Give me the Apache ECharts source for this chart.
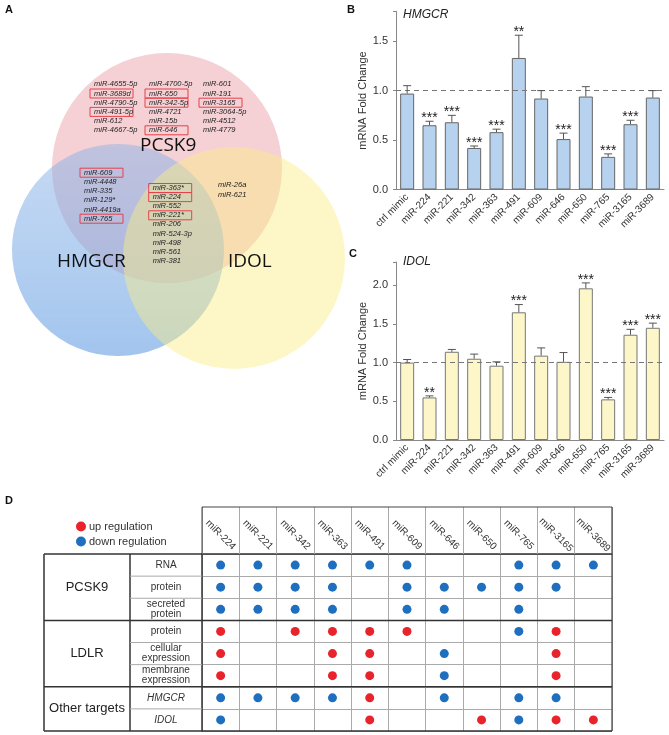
<!DOCTYPE html>
<html><head><meta charset="utf-8">
<script src="https://cdn.jsdelivr.net/npm/echarts@6/dist/echarts.min.js"></script>
<style>html,body{margin:0;padding:0;background:#fff}#c{width:669px;height:735px}</style>
</head><body><div id="c"></div>
<script>
// ---------- DATA ----------
const mirs = ['ctrl mimic','miR-224','miR-221','miR-342','miR-363','miR-491','miR-609','miR-646','miR-650','miR-765','miR-3165','miR-3689'];
const hmgcrMean = [0.97,0.65,0.68,0.42,0.58,1.33,0.92,0.51,0.94,0.33,0.66,0.93];
const hmgcrErrTop = [1.05,0.69,0.75,0.44,0.61,1.56,1.00,0.57,1.04,0.36,0.70,1.00];
const hmgcrSig = ['','***','***','***','***','**','','***','','***','***',''];
const idolMean = [1.00,0.55,1.14,1.05,0.96,1.65,1.09,1.01,1.96,0.525,1.36,1.45];
const idolErrTop = [1.04,0.57,1.17,1.11,1.01,1.75,1.19,1.13,2.03,0.55,1.43,1.51];
const idolSig = ['','**','','','','***','','','***','***','***','***'];

const tableCols = ['miR-224','miR-221','miR-342','miR-363','miR-491','miR-609','miR-646','miR-650','miR-765','miR-3165','miR-3689'];
const tableRowLabels = ['RNA','protein','secreted\nprotein','protein','cellular\nexpression','membrane\nexpression','HMGCR','IDOL'];
const tableGroups = ['PCSK9','LDLR','Other targets'];
const groupSpans = [3,3,2];
// U = up regulation, D = down regulation, . = none
const regulation = [
  'DDDDDD..DDD',
  'DDDD.DDDDD.',
  'DDDD.DD.D..',
  'U.UUUU..DU.',
  'U..UU.D..U.',
  'U..UU.D..U.',
  'DDDDU.D.DD.',
  'D...U..UDUU'
];

const vennPcsk9Only = [
  ['miR-4655-5p','miR-3689d','miR-4790-5p','miR-491-5p','miR-612','miR-4667-5p'],
  ['miR-4700-5p','miR-650','miR-342-5p','miR-4721','miR-15b','miR-646'],
  ['miR-601','miR-191','miR-3165','miR-3064-5p','miR-4512','miR-4779']
];
const vennPcsk9Hmgcr = ['miR-609','miR-4448','miR-335','miR-129*','miR-4419a','miR-765'];
const vennAll = ['miR-363*','miR-224','miR-552','miR-221*','miR-206','miR-524-3p','miR-498','miR-561','miR-381'];
const vennPcsk9Idol = ['miR-26a','miR-621'];
const vennBoxed = ['miR-3689d','miR-491-5p','miR-650','miR-342-5p','miR-646','miR-3165','miR-609','miR-765','miR-363*','miR-224','miR-221*'];
const vennSets = ['PCSK9','HMGCR','IDOL'];

// ---------- LAYOUT ----------
const GB = {left:396, top:11.5, width:268, height:178};
const GC = {left:396, top:262, width:268, height:178};
const GD = {left:202, top:554, width:410, height:177};
const rowH = GD.height / tableRowLabels.length;

const chart = echarts.init(document.getElementById('c'));
const FONT = 'Arial';

function errSeries(xi, yi, mean, errTop, sig) {
  return {
    type:'custom', xAxisIndex:xi, yAxisIndex:yi, z:5, silent:true,
    data: mean.map((m,i)=>[i,m,errTop[i]]),
    renderItem(params, api){
      const i = api.value(0);
      const p0 = api.coord([i, api.value(1)]);
      const p1 = api.coord([i, api.value(2)]);
      const cap = 4;
      const ch = [
        {type:'line', shape:{x1:p0[0],y1:p0[1],x2:p1[0],y2:p1[1]}, style:{stroke:'#555',lineWidth:1}},
        {type:'line', shape:{x1:p1[0]-cap,y1:p1[1],x2:p1[0]+cap,y2:p1[1]}, style:{stroke:'#555',lineWidth:1}}
      ];
      const s = sig[params.dataIndex];
      if (s) ch.push({type:'text', style:{text:s, x:p1[0], y:p1[1]-3, align:'center', verticalAlign:'middle', font:'14px '+FONT, fill:'#222'}});
      return {type:'group', children:ch};
    }
  };
}

function barX(gi){
  return {gridIndex:gi, type:'category', data:mirs,
    axisLine:{lineStyle:{color:'#888'}},
    axisTick:{alignWithLabel:true, length:3, lineStyle:{color:'#888'}},
    axisLabel:{rotate:45, fontSize:10, color:'#333', margin:6, interval:0, fontFamily:FONT}};
}
function barY(gi, max){
  return {gridIndex:gi, type:'value', min:0, max:max, interval:0.5,
    splitLine:{show:false},
    axisLine:{show:true, lineStyle:{color:'#888'}},
    axisTick:{show:true, length:3, lineStyle:{color:'#888'}},
    axisLabel:{fontSize:11, color:'#333', fontFamily:FONT, formatter:v => (Math.abs(v*2-Math.round(v*2))<1e-6 ? v.toFixed(1) : '')},
    name:'mRNA Fold Change', nameLocation:'middle', nameGap:24,
    nameTextStyle:{fontSize:11, color:'#333', fontFamily:FONT}};
}
const refLine = {silent:true, symbol:'none', label:{show:false},
  lineStyle:{type:[5,4], color:'#777', width:1}, data:[{yAxis:1}]};

// ---------- GRAPHICS (Venn + table frame) ----------
const g = [];
const letter = (t,x,y)=>g.push({type:'text', x, y, style:{text:t, font:'bold 11px '+FONT, fill:'#111', verticalAlign:'middle'}});
letter('A',5,10); letter('B',347,10); letter('C',349,254); letter('D',5,501);

// Venn circles
g.push({type:'circle', shape:{cx:167, cy:168, r:115}, style:{fill:'rgba(232,150,160,0.45)'}});
g.push({type:'circle', shape:{cx:118, cy:250, r:106}, style:{fill:new echarts.graphic.LinearGradient(0,0,0,1,[
  {offset:0, color:'rgba(140,180,232,0.5)'},{offset:1, color:'rgba(100,158,226,0.6)'}])}});
g.push({type:'circle', shape:{cx:234, cy:258, r:111}, style:{fill:'rgba(250,238,130,0.45)'}});

function vennCol(list, x, y0, dy){
  list.forEach((t,i)=>{
    const y = y0 + i*dy;
    if (vennBoxed.includes(t)) g.push({type:'rect', shape:{x:x-4, y:y-4.5, width:43, height:9}, style:{fill:'none', stroke:'#e8414a', lineWidth:1}});
    g.push({type:'text', x, y, style:{text:t, font:'italic 7.5px '+FONT, fill:'#222', verticalAlign:'middle'}});
  });
}
vennCol(vennPcsk9Only[0], 94, 84.3, 9.2);
vennCol(vennPcsk9Only[1], 149, 84.3, 9.2);
vennCol(vennPcsk9Only[2], 203, 84.3, 9.2);
vennCol(vennPcsk9Hmgcr, 84, 172.7, 9.2);
vennCol(vennAll, 152.7, 188, 9.1);
vennCol(vennPcsk9Idol, 218, 185, 9.6);
const setLabel = (t,x,y)=>g.push({type:'text', x, y, style:{text:t, font:'19px "Open Sans"', fill:'#111', verticalAlign:'middle'}});
setLabel(vennSets[0],140,146); setLabel(vennSets[1],57,262); setLabel(vennSets[2],228,262);

// Table frame
const T = GD, L0 = 44, L1 = 130, R = T.left + T.width, B = T.top + T.height;
const thick = {stroke:'#333', lineWidth:1.5}, thin = {stroke:'#aaa', lineWidth:1};
const ln = (x1,y1,x2,y2,st)=>g.push({type:'line', z:100, shape:{x1,y1,x2,y2}, style:st});
ln(T.left, 507, R, 507, {stroke:'#444', lineWidth:1});
ln(T.left, 507, T.left, T.top, {stroke:'#444', lineWidth:1});
ln(R, 507, R, B, {stroke:'#444', lineWidth:1.2});
ln(L0, T.top, T.left, T.top, thick);
ln(L0, T.top, L0, B, thick);
ln(L1, T.top, L1, B, thick);
ln(L0, B, R, B, thick);
let acc = 0;
groupSpans.forEach((span, gi)=>{
  const yTop = T.top + acc*rowH, yMid = T.top + (acc+span/2)*rowH;
  if (acc>0) ln(L0, yTop, R, yTop, thick);
  for (let k=1;k<span;k++) ln(L1, yTop+k*rowH, T.left, yTop+k*rowH, thin);
  g.push({type:'text', x:(L0+L1)/2, y:yMid, style:{text:tableGroups[gi], font:'13px '+FONT, fill:'#222', align:'center', verticalAlign:'middle'}});
  acc += span;
});

// scatter data
const upData = [], downData = [];
regulation.forEach((row, r)=>{
  row.split('').forEach((c, ci)=>{
    if (c==='U') upData.push([ci, r]);
    else if (c==='D') downData.push([ci, r]);
  });
});

const option = {
  animation:false,
  textStyle:{fontFamily:FONT},
  title:[
    {text:'HMGCR', left:403, top:9, padding:0, textStyle:{fontStyle:'italic', fontWeight:'normal', fontSize:12, color:'#222', fontFamily:FONT}},
    {text:'IDOL', left:403, top:256, padding:0, textStyle:{fontStyle:'italic', fontWeight:'normal', fontSize:12, color:'#222', fontFamily:FONT}}
  ],
  legend:{data:['up regulation','down regulation'], orient:'vertical', left:76, top:521, itemWidth:10, itemHeight:10, itemGap:4, icon:'circle', padding:0,
    textStyle:{fontSize:11, color:'#333', fontFamily:FONT, padding:[0,0,0,-2]}},
  grid:[GB, GC, GD].map(o=>Object.assign({containLabel:false}, o)),
  xAxis:[barX(0), barX(1),
    {gridIndex:2, type:'category', data:tableCols, position:'top',
      axisLine:{show:true, lineStyle:{color:'#333', width:1.5}},
      axisTick:{show:true, length:47, lineStyle:{color:'#aaa'}},
      axisLabel:{rotate:45, fontSize:10, color:'#333', align:'center', verticalAlign:'middle', margin:19, interval:0, fontFamily:FONT},
      splitLine:{show:true, lineStyle:{color:'#aaa'}}}
  ],
  yAxis:[barY(0, 1.8), barY(1, 2.3),
    {gridIndex:2, type:'category', inverse:true, data:tableRowLabels.map((_,i)=>'r'+i),
      axisLine:{show:true, lineStyle:{color:'#333', width:1.5}},
      axisTick:{show:false},
      axisLabel:{fontSize:10, color:'#333', align:'center', margin:36, interval:0, lineHeight:10, fontFamily:FONT,
        formatter:(v,i)=>{ const t = tableRowLabels[i]; return (t==='HMGCR'||t==='IDOL') ? '{it|'+t+'}' : t; },
        rich:{it:{fontStyle:'italic', fontSize:10, color:'#333', fontFamily:FONT}}},
      splitLine:{show:true, lineStyle:{color:'#aaa'}}}
  ],
  series:[
    {type:'bar', xAxisIndex:0, yAxisIndex:0, data:hmgcrMean, barWidth:14,
      itemStyle:{color:'#b7d2ef', borderColor:'#666', borderWidth:1}, markLine:refLine},
    errSeries(0,0,hmgcrMean,hmgcrErrTop,hmgcrSig),
    {type:'bar', xAxisIndex:1, yAxisIndex:1, data:idolMean, barWidth:14,
      itemStyle:{color:'#fcf6c8', borderColor:'#777', borderWidth:1}, markLine:refLine},
    errSeries(1,1,idolMean,idolErrTop,idolSig),
    {name:'up regulation', type:'scatter', xAxisIndex:2, yAxisIndex:2, data:upData, symbolSize:9, itemStyle:{color:'#e8232b', opacity:1}, z:10},
    {name:'down regulation', type:'scatter', xAxisIndex:2, yAxisIndex:2, data:downData, symbolSize:9, itemStyle:{color:'#1f6fc0', opacity:1}, z:10}
  ],
  graphic:{elements:g}
};
chart.setOption(option);
</script></body></html>
